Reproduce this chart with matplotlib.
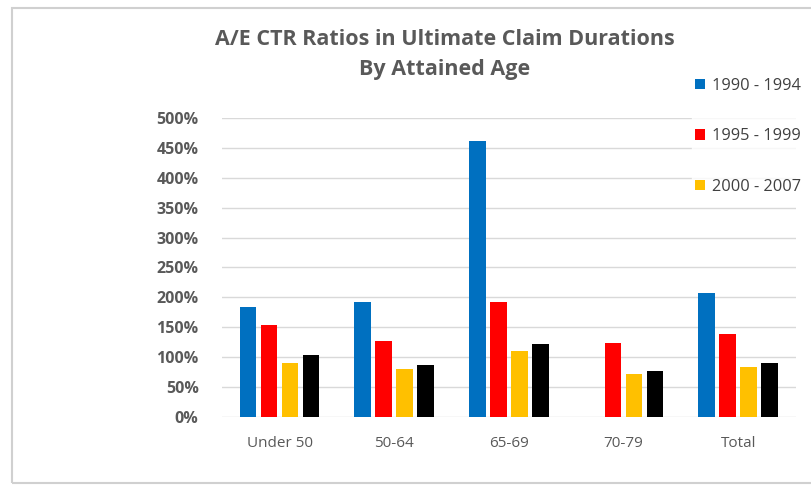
import numpy as np
import matplotlib
matplotlib.use("Agg")
import matplotlib.pyplot as plt
from matplotlib.patches import Rectangle
from matplotlib.ticker import PercentFormatter

categories = ["Under 50", "50-64", "65-69", "70-79", "Total"]
series_names = ["1990 - 1994", "1995 - 1999", "2000 - 2007", None]
colors = ["#0070C0", "#FF0000", "#FFC000", "#000000"]
# A/E ratios in percent (70-79 has no 1990-1994 value)
s1990 = [184, 193, 462, 0, 208]
s1995 = [154, 127, 193, 124, 138]
s2000 = [90, 80, 110, 72, 84]
s_other = [103, 87, 122, 77, 90]
values = [s1990, s1995, s2000, s_other]

plt.rcParams['font.family'] = ['Open Sans', 'DejaVu Sans']

fig = plt.figure(figsize=(8.11, 4.91), dpi=100)
ax = fig.add_axes([0.274, 0.1507, 0.707, 0.609])

x = np.arange(len(categories))
step = 0.183
width = 0.145
handles = []
for i, (vals, name, col) in enumerate(zip(values, series_names, colors)):
    b = ax.bar(x + (i - 1.5) * step, vals, width, color=col, zorder=3)
    if name:
        handles.append((b, name))

ax.set_ylim(0, 500)
ax.set_xlim(-0.5, len(categories) - 0.5)
ax.set_yticks(np.arange(0, 501, 50))
ax.yaxis.set_major_formatter(PercentFormatter(decimals=0))
ax.set_xticks(x)
ax.set_xticklabels(categories)
ax.grid(axis="y", color="#D9D9D9", linewidth=1, zorder=0)
for s in ax.spines.values():
    s.set_visible(False)
ax.tick_params(axis="both", length=0, colors="#595959")
ax.tick_params(axis="y", pad=17, labelsize=11.5)
ax.tick_params(axis="x", pad=14, labelsize=11)
for lbl in ax.get_yticklabels():
    lbl.set_fontweight("bold")

fig.text(0.548, 0.92, "A/E CTR Ratios in Ultimate Claim Durations",
         ha="center", va="center", fontsize=15.5, fontweight="bold", color="#595959")
fig.text(0.548, 0.858, "By Attained Age",
         ha="center", va="center", fontsize=15.5, fontweight="bold", color="#595959")

leg = fig.legend([h[0] for h in handles], [h[1] for h in handles],
                 loc="upper left", bbox_to_anchor=(0.843, 0.865),
                 frameon=True, fontsize=11.8, labelspacing=2.1,
                 handlelength=0.6, handleheight=0.6, handletextpad=0.4,
                 borderpad=0.2)
leg.get_frame().set_facecolor("white")
leg.get_frame().set_edgecolor("white")
for t in leg.get_texts():
    t.set_color("#404040")

# outer frame of the chart area
fig.patches.append(Rectangle((12 / 811, 1 - 483 / 491), 1.0, (483 - 8) / 491,
                             transform=fig.transFigure, fill=False,
                             edgecolor="#D0D0D0", linewidth=1.5))

fig.savefig("out.png", dpi=100)
